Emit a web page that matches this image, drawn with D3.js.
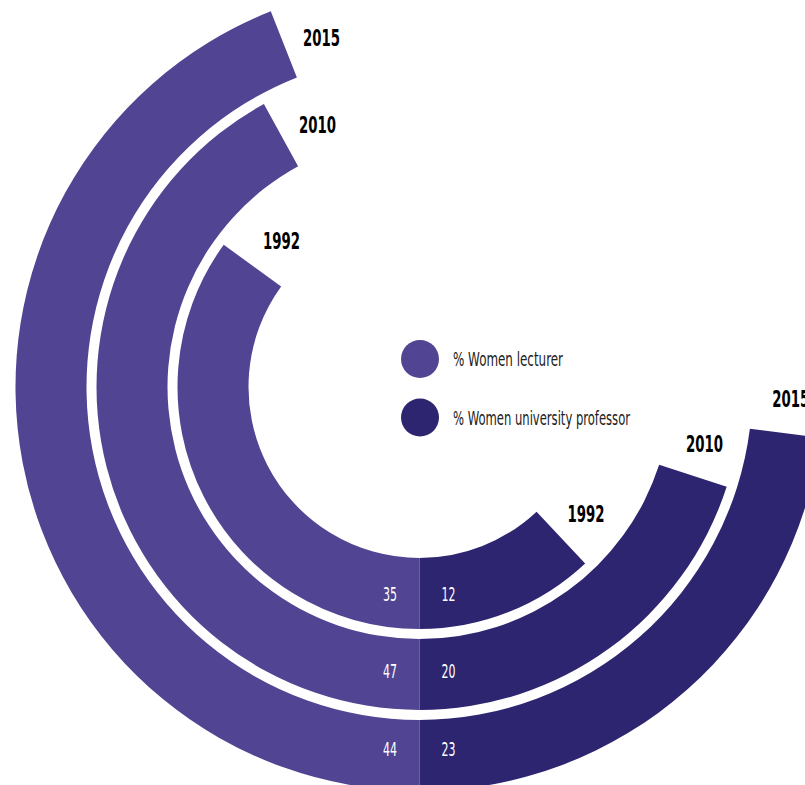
<!doctype html>
<html>
  <head>
    <meta charset="utf-8">
    <script src="https://cdn.jsdelivr.net/npm/d3@7/dist/d3.min.js"></script>

    <style>
      body {
        margin: 0;
        background-color: white;
      }

      .chart {
        display: block;
        width: 805px;
        height: 785px;
      }

      text {
        font-family: "Liberation Sans Narrow", "DejaVu Sans Condensed", "Roboto", sans-serif;
      }

      .year {
        font-weight: bold;
        fill: black;
      }

      .value {
        fill: white;
      }

      .legend text {
        fill: #222;
      }
    </style>
  </head>
  <body>

    <svg class="chart"></svg>

    <script>

      const years = ["1992", "2010", "2015"]

      // arc lengths as drawn (2010 lecturer arc is drawn shorter than its label)
      const lecturer = [35, 42, 44]
      const professor = [12, 20, 23]

      const lecturerLabels = ["35", "47", "44"]
      const professorLabels = ["12", "20", "23"]

      const seriesNames = ["% Women lecturer", "% Women university professor"]

      const width = 805,
            height = 785,
            cx = 419.5,
            cy = 387

      const colors = ["#514492", "#2e2570"]

      const angle = d3.scaleLinear()
                      .domain([0, 100])
                      .range([0, 2 * Math.PI])

      const radius = d3.scaleBand()
                       .domain(years)
                       .range([171, 404])
                       .paddingInner(10 / 81)

      const arc = d3.arc()

      const svg = d3.select(".chart")
                    .attr("width", width)
                    .attr("height", height)

      const chart = svg.append("g")
                         .attr("transform", "translate(" + cx + "," + cy + ")")

      const rows = years.map((y, i) => ({
        year: y,
        lec: lecturer[i],
        prof: professor[i],
        lecLabel: lecturerLabels[i],
        profLabel: professorLabels[i],
        i: i
      }))

      const inner = (d) => radius(d.year)
      const outer = (d) => radius(d.year) + radius.bandwidth()
      const mid = (d) => radius(d.year) + radius.bandwidth() / 2

      // lecturer arcs go clockwise from the bottom, professor arcs the other way
      chart.selectAll(".lecturer")
        .data(rows)
        .enter().append("path")
          .attr("class", "lecturer")
          .attr("fill", colors[0])
          .attr("d", (d) => arc({
            innerRadius: inner(d),
            outerRadius: outer(d),
            startAngle: Math.PI,
            endAngle: Math.PI + angle(d.lec)
          }))

      chart.selectAll(".professor")
        .data(rows)
        .enter().append("path")
          .attr("class", "professor")
          .attr("fill", colors[1])
          .attr("d", (d) => arc({
            innerRadius: inner(d),
            outerRadius: outer(d),
            startAngle: Math.PI - angle(d.prof),
            endAngle: Math.PI
          }))

      function polar(r, a) {
        return [r * Math.sin(a), -r * Math.cos(a)]
      }

      // year labels just past the end of each arc
      chart.selectAll(".year-lec")
        .data(rows)
        .enter().append("text")
          .attr("class", "year")
          .attr("font-size", 23)
          .attr("text-anchor", "middle")
          .attr("dominant-baseline", "central")
          .attr("textLength", 37)
          .attr("lengthAdjust", "spacingAndGlyphs")
          .attr("transform", (d) => {
            let p = polar(mid(d) - 6, Math.PI + angle(d.lec) + 38 / mid(d))
            return "translate(" + p[0] + "," + p[1] + ")"
          })
          .text((d) => d.year)

      chart.selectAll(".year-prof")
        .data(rows)
        .enter().append("text")
          .attr("class", "year")
          .attr("font-size", 23)
          .attr("text-anchor", "middle")
          .attr("dominant-baseline", "central")
          .attr("textLength", 37)
          .attr("lengthAdjust", "spacingAndGlyphs")
          .attr("transform", (d) => {
            let p = polar(mid(d) + 3, Math.PI - angle(d.prof) - 34 / mid(d))
            return "translate(" + p[0] + "," + p[1] + ")"
          })
          .text((d) => d.year)

      // values at the bottom of each band
      chart.selectAll(".value-lec")
        .data(rows)
        .enter().append("text")
          .attr("class", "value")
          .attr("font-size", 19)
          .attr("text-anchor", "middle")
          .attr("dominant-baseline", "central")
          .attr("textLength", 14)
          .attr("lengthAdjust", "spacingAndGlyphs")
          .attr("x", -29.5)
          .attr("y", (d) => mid(d) - 3.5 * d.i)
          .text((d) => d.lecLabel)

      chart.selectAll(".value-prof")
        .data(rows)
        .enter().append("text")
          .attr("class", "value")
          .attr("font-size", 19)
          .attr("text-anchor", "middle")
          .attr("dominant-baseline", "central")
          .attr("textLength", 14)
          .attr("lengthAdjust", "spacingAndGlyphs")
          .attr("x", 29)
          .attr("y", (d) => mid(d) - 3.5 * d.i)
          .text((d) => d.profLabel)

      // legend
      const legend = svg.append("g")
                          .attr("class", "legend")
                          .attr("transform", "translate(420,359)")

      const legendWidths = [110, 177]

      const items = legend.selectAll(".item")
        .data(seriesNames)
        .enter().append("g")
          .attr("class", "item")
          .attr("transform", (d, i) => "translate(0," + i * 58.5 + ")")

      items.append("circle")
        .attr("r", 19)
        .attr("fill", (d, i) => colors[i])

      items.append("text")
        .attr("x", 33)
        .attr("font-size", 20)
        .attr("dominant-baseline", "central")
        .attr("textLength", (d, i) => legendWidths[i])
        .attr("lengthAdjust", "spacingAndGlyphs")
        .text((d) => d)

    </script>
  </body>
</html>
